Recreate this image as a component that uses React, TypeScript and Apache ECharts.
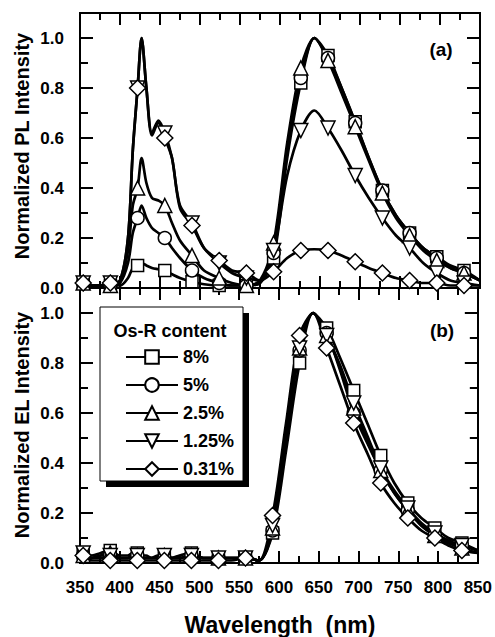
import React, { useEffect, useRef } from 'react';
import * as echarts from 'echarts';

const FONT = '"Liberation Sans", Arial, sans-serif';

const WAVELENGTHS = [350, 354, 365, 376, 388, 400, 410, 416, 422, 427, 433, 440, 448, 456, 465, 475, 490, 505, 524, 540, 558, 575, 592, 609, 626, 643, 660, 677, 694, 711, 728, 745, 762, 779, 796, 813, 830, 850];
const MARKER_WAVELENGTHS = [354, 388, 422, 456, 490, 524, 558, 592, 626, 660, 694, 728, 762, 796, 830];

const SERIES_NAMES = ['8%', '5%', '2.5%', '1.25%', '0.31%'];

// (a) Normalized PL intensity
const PL_8 = [0.03, 0.02, 0.01, 0.01, 0.01, 0.01, 0.04, 0.08, 0.09, 0.10, 0.09, 0.08, 0.075, 0.07, 0.055, 0.04, 0.025, 0.015, 0.01, 0.01, 0.01, 0.02, 0.12, 0.52, 0.82, 1.0, 0.93, 0.80, 0.665, 0.52, 0.39, 0.29, 0.22, 0.16, 0.125, 0.09, 0.07, 0.03];
const PL_5 = [0.02, 0.02, 0.01, 0.01, 0.01, 0.02, 0.10, 0.22, 0.28, 0.33, 0.28, 0.24, 0.22, 0.20, 0.16, 0.12, 0.07, 0.04, 0.02, 0.01, 0.01, 0.02, 0.14, 0.55, 0.84, 1.0, 0.92, 0.80, 0.66, 0.52, 0.39, 0.29, 0.22, 0.16, 0.12, 0.08, 0.06, 0.03];
const PL_2_5 = [0.02, 0.02, 0.01, 0.01, 0.01, 0.02, 0.15, 0.33, 0.40, 0.52, 0.42, 0.36, 0.35, 0.33, 0.26, 0.19, 0.13, 0.07, 0.04, 0.02, 0.01, 0.03, 0.18, 0.58, 0.88, 1.0, 0.91, 0.78, 0.645, 0.51, 0.38, 0.28, 0.21, 0.15, 0.11, 0.08, 0.06, 0.03];
const PL_1_25 = [0.03, 0.02, 0.01, 0.01, 0.02, 0.03, 0.20, 0.55, 0.80, 1.0, 0.80, 0.62, 0.67, 0.62, 0.52, 0.33, 0.26, 0.16, 0.10, 0.06, 0.04, 0.03, 0.15, 0.45, 0.63, 0.71, 0.64, 0.55, 0.45, 0.36, 0.28, 0.21, 0.16, 0.10, 0.06, 0.03, 0.02, 0.01];
const PL_0_31 = [0.03, 0.02, 0.01, 0.01, 0.02, 0.03, 0.20, 0.55, 0.80, 1.0, 0.80, 0.61, 0.66, 0.60, 0.52, 0.32, 0.25, 0.16, 0.11, 0.07, 0.06, 0.03, 0.065, 0.12, 0.15, 0.155, 0.15, 0.13, 0.105, 0.08, 0.06, 0.04, 0.03, 0.02, 0.02, 0.01, 0.01, 0.01];

// (b) Normalized EL intensity
const EL_8 = [0.05, 0.04, 0.03, 0.04, 0.05, 0.03, 0.03, 0.04, 0.04, 0.03, 0.03, 0.02, 0.03, 0.03, 0.02, 0.03, 0.04, 0.02, 0.02, 0.02, 0.02, 0.01, 0.12, 0.45, 0.80, 1.0, 0.94, 0.82, 0.69, 0.56, 0.43, 0.32, 0.24, 0.18, 0.14, 0.10, 0.08, 0.05];
const EL_5 = [0.03, 0.03, 0.02, 0.02, 0.03, 0.02, 0.02, 0.03, 0.03, 0.02, 0.02, 0.02, 0.02, 0.02, 0.02, 0.02, 0.03, 0.02, 0.02, 0.02, 0.02, 0.01, 0.13, 0.50, 0.85, 1.0, 0.92, 0.77, 0.60, 0.48, 0.37, 0.28, 0.21, 0.15, 0.11, 0.08, 0.07, 0.05];
const EL_2_5 = [0.04, 0.03, 0.02, 0.03, 0.04, 0.02, 0.02, 0.03, 0.03, 0.02, 0.02, 0.02, 0.02, 0.03, 0.02, 0.02, 0.03, 0.02, 0.02, 0.02, 0.02, 0.01, 0.14, 0.50, 0.86, 1.0, 0.91, 0.78, 0.62, 0.49, 0.37, 0.28, 0.21, 0.15, 0.11, 0.08, 0.06, 0.04];
const EL_1_25 = [0.05, 0.04, 0.02, 0.03, 0.03, 0.02, 0.02, 0.03, 0.03, 0.02, 0.02, 0.02, 0.02, 0.03, 0.02, 0.02, 0.03, 0.02, 0.02, 0.02, 0.02, 0.01, 0.15, 0.52, 0.86, 1.0, 0.91, 0.79, 0.64, 0.51, 0.38, 0.29, 0.22, 0.16, 0.12, 0.09, 0.07, 0.05];
const EL_0_31 = [0.04, 0.03, 0.01, 0.01, 0.01, 0.01, 0.01, 0.01, 0.01, 0.01, 0.01, 0.01, 0.01, 0.01, 0.01, 0.01, 0.01, 0.01, 0.01, 0.01, 0.02, 0.01, 0.19, 0.56, 0.91, 1.0, 0.86, 0.71, 0.56, 0.44, 0.32, 0.24, 0.18, 0.13, 0.10, 0.07, 0.05, 0.04];

const PL_SERIES = [PL_8, PL_5, PL_2_5, PL_1_25, PL_0_31];
const EL_SERIES = [EL_8, EL_5, EL_2_5, EL_1_25, EL_0_31];

const SYMBOLS: [string, number, number][] = [
  ['rect', 0, 12],
  ['circle', 0, 13],
  ['triangle', 0, 14],
  ['triangle', 180, 14],
  ['diamond', 0, 16],
];

const X_MIN = 350;
const X_MAX = 850;
const X_INTERVAL = 50;
const Y_MIN = 0;
const Y_MAX = 1.1;

function makeSeries(name: string, values: number[], sym: [string, number, number], xi: number, yi: number) {
  return {
    type: 'line',
    name,
    xAxisIndex: xi,
    yAxisIndex: yi,
    smooth: 0.3,
    symbol: sym[0],
    symbolRotate: sym[1],
    symbolSize: sym[2],
    showSymbol: true,
    showAllSymbol: true,
    lineStyle: { color: '#000', width: 2.7 },
    itemStyle: { color: '#fff', borderColor: '#000', borderWidth: 1.5 },
    emphasis: { disabled: true },
    data: WAVELENGTHS.map((w, i) =>
      MARKER_WAVELENGTHS.includes(w) ? { value: [w, values[i]] } : { value: [w, values[i]], symbol: 'none' }
    ),
  };
}

const axisLine = { show: true, onZero: false, lineStyle: { color: '#000', width: 2 } };

function xAxis(gridIndex: number, position: string, showLabels: boolean) {
  return {
    type: 'value',
    gridIndex,
    position,
    min: X_MIN,
    max: X_MAX,
    interval: X_INTERVAL,
    axisLine,
    axisTick: { show: true, inside: true, length: 12, lineStyle: { color: '#000', width: 2 } },
    minorTick: { show: true, splitNumber: 2, length: 7, lineStyle: { color: '#000', width: 2 } },
    splitLine: { show: false },
    minorSplitLine: { show: false },
    axisLabel: { show: showLabels, margin: 16, fontSize: 17, fontWeight: 'bold', color: '#000', fontFamily: FONT },
  };
}

function yAxis(gridIndex: number, position: string, interval: number, tickLen: number, showLabels: boolean) {
  return {
    type: 'value',
    gridIndex,
    position,
    min: Y_MIN,
    max: Y_MAX,
    interval,
    axisLine,
    axisTick: { show: true, inside: true, length: tickLen, lineStyle: { color: '#000', width: 2 } },
    splitLine: { show: false },
    axisLabel: {
      show: showLabels,
      margin: 16,
      fontSize: 17,
      fontWeight: 'bold',
      color: '#000',
      fontFamily: FONT,
      formatter: (v: number) => {
        const k = Math.round(v * 10);
        return k % 2 === 0 && k <= 10 ? (k / 10).toFixed(1) : '';
      },
    },
  };
}

export default function App() {
  const ref = useRef<HTMLDivElement>(null);
  useEffect(() => {
    document.body.style.margin = '0';
    if (!ref.current) return;
    const chart = echarts.init(ref.current, null, { renderer: 'svg' });
    const series: any[] = [];
    SERIES_NAMES.forEach((n, i) => series.push(makeSeries(n, PL_SERIES[i], SYMBOLS[i], 0, 0)));
    SERIES_NAMES.forEach((n, i) => series.push(makeSeries(n, EL_SERIES[i], SYMBOLS[i], 2, 4)));
    const titleStyle = { fontSize: 20, fontWeight: 'bold', fontFamily: FONT, fill: '#000', align: 'center', verticalAlign: 'middle' };
    chart.setOption({
      animation: false,
      backgroundColor: '#fff',
      textStyle: { fontFamily: FONT },
      grid: [
        { left: 80, top: 13, width: 400, height: 275 },
        { left: 80, top: 288, width: 400, height: 275 },
      ],
      xAxis: [
        xAxis(0, 'bottom', false),
        xAxis(0, 'top', false),
        xAxis(1, 'bottom', true),
        xAxis(1, 'top', false),
      ],
      yAxis: [
        yAxis(0, 'left', 0.1, 8, true),
        yAxis(0, 'left', 0.2, 13, false),
        yAxis(0, 'right', 0.1, 8, false),
        yAxis(0, 'right', 0.2, 13, false),
        yAxis(1, 'left', 0.1, 8, true),
        yAxis(1, 'left', 0.2, 13, false),
        yAxis(1, 'right', 0.1, 8, false),
        yAxis(1, 'right', 0.2, 13, false),
      ],
      legend: {
        data: SERIES_NAMES,
        orient: 'vertical',
        left: 125,
        top: 348,
        padding: 0,
        itemWidth: 52,
        itemHeight: 17,
        itemGap: 10,
        selectedMode: false,
        textStyle: { fontSize: 18, fontWeight: 'bold', color: '#000', fontFamily: FONT, lineHeight: 17 },
      },
      graphic: [
        { type: 'rect', z: 3, shape: { x: 106, y: 313, width: 143, height: 174 }, style: { fill: '#000' } },
        { type: 'rect', z: 3, shape: { x: 100, y: 307, width: 143, height: 174 }, style: { fill: '#fff', stroke: '#000', lineWidth: 1 } },
        { type: 'text', z: 5, x: 170, y: 331, style: { ...titleStyle, text: 'Os-R content', fontSize: 18 } },
        { type: 'text', z: 5, x: 22, y: 146, rotation: Math.PI / 2, style: { ...titleStyle, text: 'Normalized PL Intensity' } },
        { type: 'text', z: 5, x: 22, y: 425, rotation: Math.PI / 2, style: { ...titleStyle, text: 'Normalized EL Intensity' } },
        { type: 'text', z: 5, x: 280, y: 625, style: { ...titleStyle, text: 'Wavelength  (nm)', fontSize: 23 } },
        { type: 'text', z: 5, x: 441, y: 49, style: { ...titleStyle, text: '(a)', fontSize: 19 } },
        { type: 'text', z: 5, x: 442, y: 330, style: { ...titleStyle, text: '(b)', fontSize: 19 } },
      ],
      series,
    });
    return () => chart.dispose();
  }, []);
  return <div ref={ref} style={{ width: 495, height: 637 }} />;
}
